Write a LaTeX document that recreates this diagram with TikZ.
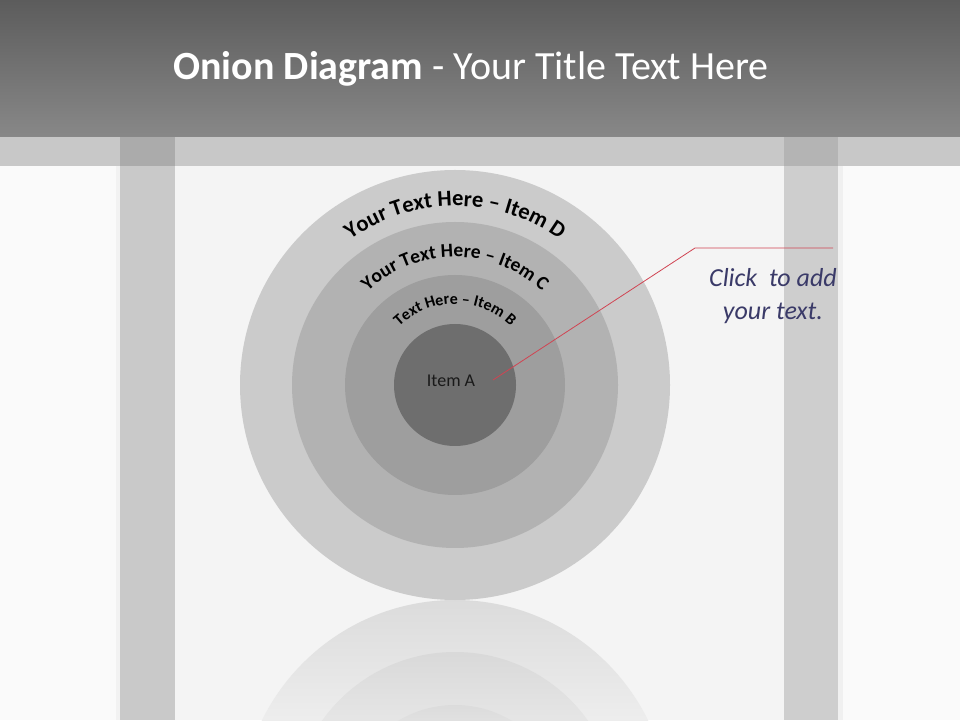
\documentclass[tikz,border=0pt]{standalone}
\usepackage{fontspec}
\setmainfont{Carlito}
\usetikzlibrary{decorations.text}
\definecolor{bgout}{HTML}{FAFAFA}
\definecolor{bgin}{HTML}{F4F4F4}
\definecolor{titletop}{HTML}{5C5C5C}
\definecolor{titlebot}{HTML}{888888}
\definecolor{band}{HTML}{C8C8C8}
\definecolor{barcol}{HTML}{C9C9C9}
\definecolor{barover}{HTML}{ABABAB}
\definecolor{ringD}{HTML}{CBCBCB}
\definecolor{ringC}{HTML}{B2B2B2}
\definecolor{ringB}{HTML}{9E9E9E}
\definecolor{ringA}{HTML}{6E6E6E}
\definecolor{leader}{HTML}{D04452}
\definecolor{clicktxt}{HTML}{3A3A68}
\tikzset{
  ring/.style={circle, inner sep=0pt, draw=none},
  curvetext/.style={decorate, decoration={text along path, text align=center}},
}
\begin{document}
\begin{tikzpicture}[x=1pt,y=1pt]
\useasboundingbox (0,0) rectangle (960,720);
% background
\fill[bgout] (0,0) rectangle (960,720);
\fill[bgin] (175,0) rectangle (784,554);
% title bar
\shade[top color=titletop, bottom color=titlebot] (0,583) rectangle (960,720);
\fill[band] (0,554) rectangle (960,583);
% vertical bars
\fill[white!90!gray] (116,0) rectangle (120,554);
\fill[barcol] (120,0) rectangle (175,554);
\fill[barover] (120,554) rectangle (175,583);
\fill[white!88!gray] (838,0) rectangle (843,554);
\fill[barcol!90!white] (784,0) rectangle (838,554);
\fill[barover!90!white] (784,554) rectangle (838,583);
% title
\node[anchor=base, text=white, font=\fontsize{40}{44}\selectfont, inner sep=0pt] (title) at (471,640) {\textbf{Onion Diagram} - Your Title Text Here};
% reflection
\coordinate (rc) at (455,-95);
\begin{scope}
  \clip (175,0) rectangle (784,120);
  \begin{scope}
    \clip (rc) circle[radius=215];
    \shade[top color=black!14, bottom color=black!7] (230,0) rectangle (680,120);
  \end{scope}
  \begin{scope}
    \clip (rc) circle[radius=163];
    \shade[top color=black!15, bottom color=black!10] (230,0) rectangle (680,68);
  \end{scope}
  \begin{scope}
    \clip (rc) circle[radius=110];
    \shade[top color=black!14, bottom color=black!12] (230,0) rectangle (680,15);
  \end{scope}
\end{scope}
% onion rings
\coordinate (c) at (455,335);
\node[ring, fill=ringD, minimum size=430pt] (D) at (c) {};
\node[ring, fill=ringC, minimum size=326pt] (C) at (c) {};
\node[ring, fill=ringB, minimum size=220pt] (B) at (c) {};
\node[ring, fill=ringA, minimum size=122pt] (A) at (c) {};
% curved labels
\path[curvetext, decoration={text={|\fontsize{22.5}{24}\selectfont\bfseries|Your Text Here – Item D}}]
  (c) ++(180:179) arc[start angle=180, end angle=0, radius=179];
\path[curvetext, decoration={text={|\fontsize{19.5}{21}\selectfont\bfseries|Your Text Here – Item C}}]
  (c) ++(180:128) arc[start angle=180, end angle=0, radius=128];
\path[curvetext, decoration={text={|\fontsize{16}{18}\selectfont\bfseries|Text Here – Item B}}]
  (c) ++(180:81) arc[start angle=180, end angle=0, radius=81];
\node[font=\fontsize{18}{20}\selectfont, text=black!90] (itemA) at (451,339) {Item A};
% leader line and callout
\coordinate (lstart) at (493,340);
\coordinate (lbend) at (695,472);
\coordinate (lend) at (833,472);
\draw[leader, line width=0.8pt] (lstart) -- (lbend) -- (lend);
\node[align=center, text=clicktxt, font=\fontsize{26}{33}\selectfont\itshape] (click) at (773,424) {Click~ to add\\your text.};
\end{tikzpicture}
\end{document}
